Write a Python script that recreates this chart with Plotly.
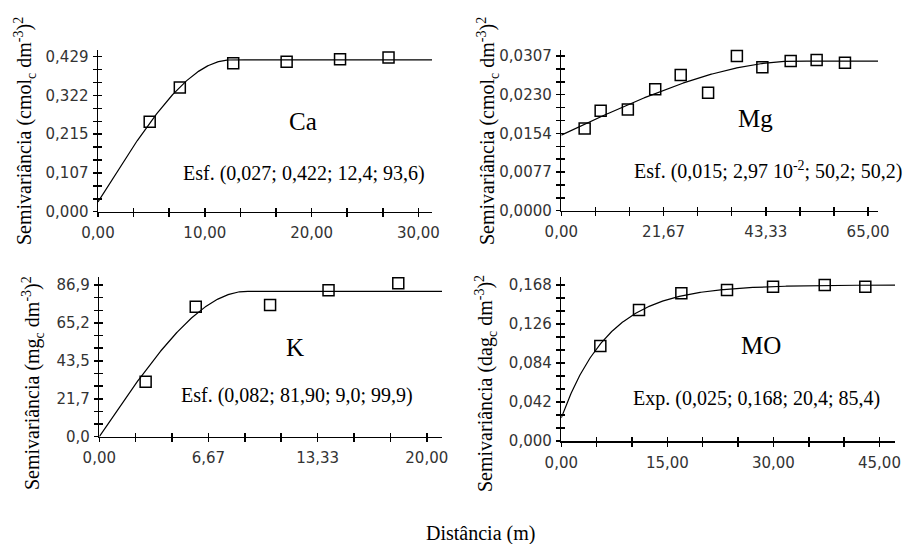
import numpy as np
import plotly.graph_objects as go

W, H = 906, 544

# ---------------- data ----------------
ca_x = [4.84, 7.66, 12.66, 17.66, 22.66, 27.2]
ca_y = [0.249, 0.344, 0.411, 0.415, 0.422, 0.427]

mg_x = [4.95, 8.34, 14.1, 19.9, 25.3, 31.1, 37.2, 42.6, 48.6, 54.1, 60.1]
mg_y = [0.01634, 0.01985, 0.02011, 0.02409, 0.02693, 0.02342, 0.0307, 0.02846, 0.02971, 0.02991, 0.02937]

k_x = [2.83, 5.89, 10.43, 14.0, 18.26]
k_y = [31.5, 74.5, 75.4, 83.9, 87.9]

mo_x = [5.52, 10.99, 16.98, 23.44, 29.95, 37.26, 43.0]
mo_y = [0.1023, 0.1411, 0.159, 0.1626, 0.1662, 0.168, 0.1662]

# fitted model parameters (nugget, sill, range) as printed / drawn
ca_model = [0.027, 0.420, 12.4]
mg_model = [0.015, 0.0297, 50.2]
k_model = [0.082, 83.3, 9.0]
mo_model = [0.025, 0.168, 20.4]

# tick labels
ca_xlab = ["0,00", "10,00", "20,00", "30,00"]
ca_ylab = ["0,000", "0,107", "0,215", "0,322", "0,429"]
mg_xlab = ["0,00", "21,67", "43,33", "65,00"]
mg_ylab = ["0,0000", "0,0077", "0,0154", "0,0230", "0,0307"]
k_xlab = ["0,00", "6,67", "13,33", "20,00"]
k_ylab = ["0,0", "21,7", "43,5", "65,2", "86,9"]
mo_xlab = ["0,00", "15,00", "30,00", "45,00"]
mo_ylab = ["0,000", "0,042", "0,084", "0,126", "0,168"]


def spherical(h, p):
    c0, s, a = p
    h = np.asarray(h, float)
    r = np.minimum(h / a, 1.0)
    return c0 + (s - c0) * (1.5 * r - 0.5 * r ** 3)


def exponential(h, p):
    c0, s, a = p
    h = np.asarray(h, float)
    return c0 + (s - c0) * (1 - np.exp(-3 * h / a))


def px_x(p):
    return p / W


def px_y(p):
    return 1 - p / H


panels = [
    dict(x=ca_x, y=ca_y, model=spherical, par=ca_model,
         box=(98, 432, 50, 211.7), xr=31.27, yr=0.4475, xmax=30, ymax=0.429,
         xlab=ca_xlab, ylab=ca_ylab),
    dict(x=mg_x, y=mg_y, model=spherical, par=mg_model,
         box=(561.3, 878, 50, 210.7), xr=67.1, yr=0.0319, xmax=65, ymax=0.0307,
         xlab=mg_xlab, ylab=mg_ylab),
    dict(x=k_x, y=k_y, model=spherical, par=k_model,
         box=(99.3, 442, 277, 436.7), xr=20.93, yr=91.5, xmax=20, ymax=86.9,
         xlab=k_xlab, ylab=k_ylab),
    dict(x=mo_x, y=mo_y, model=exponential, par=mo_model,
         box=(561.3, 895, 277, 441), xr=47.2, yr=0.1766, xmax=45, ymax=0.168,
         xlab=mo_xlab, ylab=mo_ylab),
]

fig = go.Figure()
layout = {}
tickfont = dict(family="DejaVu Sans", size=15, color="#333333")
TL, TW = 4, 1.5

for i, p in enumerate(panels):
    n = i + 1
    m = n + 4
    xa = "x" if n == 1 else f"x{n}"
    ya = "y" if n == 1 else f"y{n}"
    x0, x1, yt, yb = p["box"]
    xdom = [px_x(x0), px_x(x1)]
    ydom = [px_y(yb), px_y(yt)]

    hh = np.linspace(0, p["xr"], 400)
    fig.add_trace(go.Scatter(x=hh, y=p["model"](hh, p["par"]), mode="lines",
                             line=dict(color="black", width=1.2),
                             xaxis=xa, yaxis=ya, showlegend=False, hoverinfo="skip"))
    fig.add_trace(go.Scatter(x=p["x"], y=p["y"], mode="markers",
                             marker=dict(symbol="square-open", size=11,
                                         color="black", line=dict(width=1.5, color="black")),
                             xaxis=xa, yaxis=ya, showlegend=False, cliponaxis=False))
    fig.add_trace(go.Scatter(x=[0], y=[0], mode="markers", marker=dict(opacity=0),
                             xaxis=f"x{m}", yaxis=f"y{m}", showlegend=False, hoverinfo="skip"))

    xmaj = [float(v) for v in np.linspace(0, p["xmax"], 4)]
    ymaj = [float(v) for v in np.linspace(0, p["ymax"], 5)]
    xmin_ = [float(v) for j, v in enumerate(np.linspace(0, p["xmax"], 10)) if j % 3]
    ymin_ = [float(v) for j, v in enumerate(np.linspace(0, p["ymax"], 13)) if j % 3]

    def ax_common(dom, rng, maj, mino, side):
        return dict(domain=dom, range=rng, tickmode="array", tickvals=maj,
                    showgrid=False, zeroline=False, ticklen=TL, tickwidth=TW,
                    tickcolor="black", ticks=side, automargin=False,
                    minor=dict(tickmode="array", tickvals=mino, ticks=side,
                               ticklen=TL, tickwidth=TW, tickcolor="black",
                               showgrid=False))

    layout["xaxis" if n == 1 else f"xaxis{n}"] = dict(
        **ax_common(xdom, [0, p["xr"]], xmaj, xmin_, "outside"),
        anchor=ya, ticktext=p["xlab"], showline=True,
        linecolor="black", linewidth=1.5, tickfont=tickfont, ticklabelstandoff=3)
    layout["yaxis" if n == 1 else f"yaxis{n}"] = dict(
        **ax_common(ydom, [0, p["yr"]], ymaj, ymin_, "outside"),
        anchor=xa, ticktext=p["ylab"], showline=True,
        linecolor="black", linewidth=1.5, tickfont=tickfont, ticklabelstandoff=1)
    layout[f"xaxis{m}"] = dict(**ax_common(xdom, [0, p["xr"]], xmaj, xmin_, "inside"),
                               anchor=f"y{m}", overlaying=xa,
                               showticklabels=False, showline=False)
    layout[f"yaxis{m}"] = dict(**ax_common(ydom, [0, p["yr"]], ymaj, ymin_, "inside"),
                               anchor=f"x{m}", overlaying=ya,
                               showticklabels=False, showline=False)

serif = "Liberation Serif"
ann = []


def add_text(text, x, y, size, angle=0):
    ann.append(dict(text=text, x=px_x(x), y=px_y(y), xref="paper", yref="paper",
                    showarrow=False, xanchor="center", yanchor="middle",
                    textangle=angle, font=dict(family=serif, size=size, color="black")))


add_text("Ca", 303, 122, 25)
add_text("Mg", 755, 118, 25)
add_text("K", 295, 347, 25)
add_text("MO", 761, 345, 25)
add_text("Esf. (0,027; 0,422; 12,4; 93,6)", 304, 173, 20)
add_text("Esf. (0,015; 2,97 10<sup>-2</sup>; 50,2; 50,2)", 768, 170, 20)
add_text("Esf. (0,082; 81,90; 9,0; 99,9)", 297, 395, 20)
add_text("Exp. (0,025; 0,168; 20,4; 85,4)", 756, 398, 20)

add_text("Semivariância (cmol<sub>c</sub> dm<sup>-3</sup>)<sup>2</sup>", 25, 131, 20, -90)
add_text("Semivariância (cmol<sub>c</sub> dm<sup>-3</sup>)<sup>2</sup>", 488, 131, 20, -90)
add_text("Semivariância (mg<sub>c</sub> dm<sup>-3</sup>)<sup>2</sup>", 33, 383, 20, -90)
add_text("Semivariância (dag<sub>c</sub> dm<sup>-3</sup>)<sup>2</sup>", 486, 383, 20, -90)
add_text("Distância (m)", 480, 533, 20)

fig.update_layout(template="none", width=W, height=H,
                  margin=dict(l=0, r=0, t=0, b=0, autoexpand=False),
                  plot_bgcolor="white", paper_bgcolor="white",
                  annotations=ann, showlegend=False, **layout)

fig.write_html("out.html",
               config={"displayModeBar": False, "staticPlot": True},
               post_script="document.body.style.margin='0';"
                           "document.body.style.overflow='hidden';")
